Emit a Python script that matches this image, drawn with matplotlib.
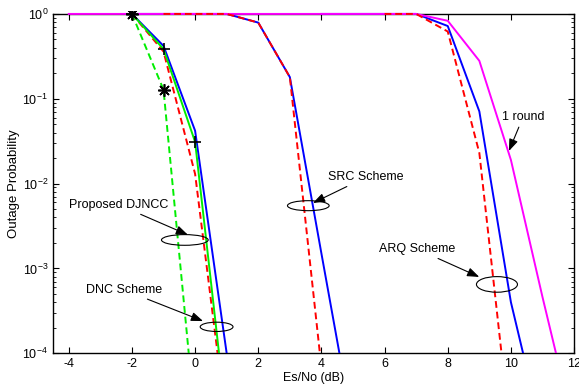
import numpy as np
import matplotlib
matplotlib.use('Agg')
import matplotlib.pyplot as plt
from matplotlib.patches import Ellipse, Rectangle

plt.rcParams['font.family'] = ['Liberation Sans', 'DejaVu Sans']
plt.rcParams['font.size'] = 9
plt.rcParams['axes.unicode_minus'] = False
plt.rcParams['mathtext.fontset'] = 'custom'
plt.rcParams['mathtext.rm'] = 'Liberation Sans'

# DJNCC / DNC group (around 0 dB)
x_g1 = [-2, -1, 0, 1]
g1_blue = [1, 0.42, 0.042, 1e-4]
g1_green = [1, 0.385, 0.031, 1.6e-5]
g1_red = [1, 0.36, 0.013, 1.4e-5]
x_g1_dash = [-2, -1, 0]
g1_green_dash = [1, 0.128, 1.65e-5]

# SRC group
x_src_red = [-1, 0, 1, 2, 3, 4]
src_red = [1, 1, 1, 0.79, 0.18, 6.8e-5]
x_src_blue = [-2, -1, 0, 1, 2, 3, 4, 5]
src_blue = [1, 1, 1, 1, 0.79, 0.18, 1.5e-3, 1.3e-5]

# ARQ group
x_arq = [6, 7, 8, 9, 10]
arq_red = [1, 1, 0.62, 0.023, 1e-5]
x_arq_blue = [4, 5, 6, 7, 8, 9, 10, 11]
arq_blue = [1, 1, 1, 1, 0.72, 0.071, 4e-4, 1.1e-5]

# 1 round
x_one = [-4, -3, -2, -1, 0, 1, 2, 3, 4, 5, 6, 7, 8, 9, 10, 11, 12]
one_round = [1, 1, 1, 1, 1, 1, 1, 1, 1, 1, 1, 1, 0.83, 0.28, 0.019, 4.6e-4, 1.3e-5]

fig = plt.figure(figsize=(5.79, 3.91), dpi=100)
ax = fig.add_axes([0.0915, 0.0964, 0.900, 0.868])

lw = 1.4
dash = (0, (3.5, 2))
lines = []
lines += ax.plot(x_src_blue, src_blue, color='blue', lw=lw)
lines += ax.plot(x_arq_blue, arq_blue, color='blue', lw=lw)
lines += ax.plot(x_g1, g1_blue, color='blue', lw=lw)
lines += ax.plot(x_one, one_round, color='magenta', lw=lw)
lines += ax.plot(x_src_red, src_red, color='red', lw=lw, linestyle=dash)
lines += ax.plot(x_arq, arq_red, color='red', lw=lw, linestyle=dash)
lines += ax.plot(x_g1, g1_red, color='red', lw=lw, linestyle=dash)
lines += ax.plot(x_g1, g1_green, color='#00ee00', lw=lw, marker='+', markersize=9,
                 markeredgecolor='k', markeredgewidth=1.2)
lines += ax.plot(x_g1_dash, g1_green_dash, color='#00ee00', lw=lw, linestyle=dash,
                 marker=(8, 2, 0), markersize=9, markeredgewidth=1.2,
                 markerfacecolor='k', markeredgecolor='k')

# let the lines lying on the top edge show fully, as in the original
clip = Rectangle((0, 0), 1, 1.01, transform=ax.transAxes, visible=False)
ax.add_patch(clip)
for ln in lines:
    ln.set_clip_path(clip)
    ln.set_zorder(3)

ax.set_yscale('log')
ax.set_xlim(-4.5, 12)
ax.set_ylim(1e-4, 1)
ax.set_xticks(np.arange(-4, 13, 2))
ax.tick_params(which='both', direction='in', top=True, right=True)
ax.tick_params(which='major', length=4)
ax.tick_params(which='minor', length=2)
ax.set_xlabel('Es/No (dB)', labelpad=1)
ax.set_ylabel('Outage Probability', fontsize=9.5, labelpad=2)
for s in ax.spines.values():
    s.set_linewidth(1.0)

# ellipses in axes fraction
ells = [(0.490, 0.435, 0.080, 0.0295),
        (0.253, 0.334, 0.0896, 0.0315),
        (0.314, 0.078, 0.063, 0.0274),
        (0.852, 0.203, 0.0787, 0.046)]
for cx, cy, w, h in ells:
    ax.add_patch(Ellipse((cx, cy), w, h, transform=ax.transAxes,
                         fill=False, edgecolor='k', lw=0.8, zorder=4))

notes = [('1 round', (0.902, 0.696), (0.875, 0.596)),
         ('SRC Scheme', (0.601, 0.519), (0.499, 0.443)),
         ('Proposed DJNCC', (0.127, 0.437), (0.259, 0.349)),
         ('DNC Scheme', (0.136, 0.187), (0.288, 0.095)),
         ('ARQ Scheme', (0.699, 0.307), (0.818, 0.225))]
for txt, pt, tip in notes:
    ax.annotate(txt, xy=tip, xytext=pt, xycoords='axes fraction',
                textcoords='axes fraction', ha='center', va='center',
                arrowprops=dict(arrowstyle='-|>,head_length=0.8,head_width=0.3',
                                color='k', lw=0.8, shrinkA=1, shrinkB=0))

fig.savefig('out.png', dpi=100)
